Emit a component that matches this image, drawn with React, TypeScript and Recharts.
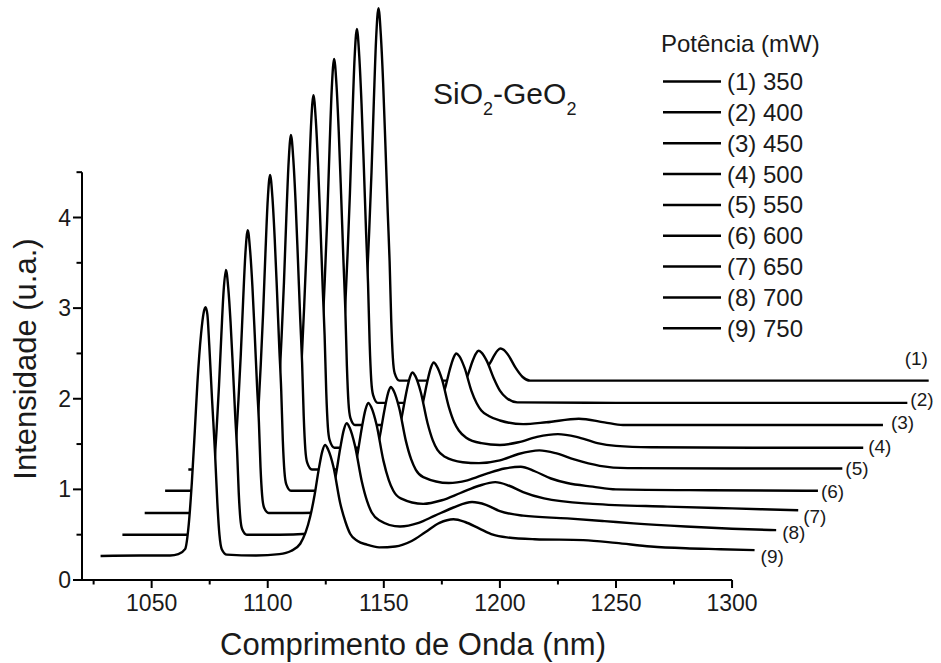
import React from 'react';
import { ComposedChart, Area, XAxis, YAxis, ReferenceLine, ReferenceDot } from 'recharts';

const font = '"Liberation Sans", Arial, Helvetica, sans-serif';

const powers = [350, 400, 450, 500, 550, 600, 650, 700, 750];
const xTicks = [1025, 1050, 1075, 1100, 1125, 1150, 1175, 1200, 1225, 1250, 1275, 1300];
const xMajor = [1050, 1100, 1150, 1200, 1250, 1300];
const yTicks = [0, 0.5, 1, 1.5, 2, 2.5, 3, 3.5, 4, 4.5];
const yMajor = [0, 1, 2, 3, 4];

// spectra, already offset as in the waterfall plot: [wavelength nm, intensity u.a.]
const curve1 = [[1104,2.2],[1120,2.2],[1136.7,2.2],[1139.2,2.28],[1140.7,2.45],[1141.7,2.775],[1142.7,3.27],[1143.7,3.845],[1144.7,4.5],[1145.7,5.28],[1146.7,5.98],[1147.7,6.31],[1148.7,6.02],[1149.7,5.49],[1150.7,4.79],[1151.7,4.05],[1152.5,3.515],[1153.2,2.86],[1153.9,2.45],[1154.7,2.28],[1156.7,2.2],[1170,2.2],[1183.3,2.2],[1187.3,2.215],[1189.8,2.24],[1192.3,2.28],[1193.9,2.325],[1195.8,2.395],[1197.5,2.475],[1199.1,2.535],[1200.3,2.555],[1201.6,2.54],[1203.9,2.47],[1206.8,2.34],[1209.8,2.24],[1213,2.2],[1260,2.2],[1320,2.2],[1384.7,2.2]];
const curve2 = [[1094.5,1.955],[1110,1.955],[1127.4,1.955],[1129.9,2.04],[1131.4,2.2],[1132.4,2.53],[1133.4,3.03],[1134.4,3.605],[1135.4,4.265],[1136.4,5.05],[1137.4,5.75],[1138.4,6.08],[1139.4,5.79],[1140.4,5.255],[1141.4,4.555],[1142.4,3.81],[1143.2,3.275],[1143.9,2.615],[1144.6,2.2],[1145.4,2.04],[1147.4,1.955],[1160,1.955],[1173.8,1.955],[1177.8,1.98],[1180.3,2.02],[1182.8,2.08],[1184.4,2.155],[1186.3,2.27],[1188,2.4],[1189.6,2.495],[1190.8,2.53],[1192.1,2.51],[1194.4,2.415],[1197.3,2.23],[1200,2.09],[1202.8,2.01],[1207.5,1.96],[1250,1.955],[1300,1.955],[1375.5,1.955]];
const curve3 = [[1085,1.71],[1100,1.71],[1117.6,1.71],[1120.1,1.79],[1121.6,1.95],[1122.6,2.28],[1123.6,2.76],[1124.6,3.33],[1125.6,3.97],[1126.6,4.74],[1127.6,5.43],[1128.6,5.75],[1129.6,5.47],[1130.6,4.94],[1131.6,4.26],[1132.6,3.53],[1133.4,3.0],[1134.1,2.36],[1134.8,1.95],[1135.6,1.79],[1137.6,1.71],[1150,1.71],[1164.2,1.71],[1168.2,1.74],[1170.7,1.8],[1173.2,1.885],[1174.8,1.99],[1176.7,2.145],[1178.4,2.32],[1180,2.45],[1181.2,2.5],[1182.5,2.47],[1184.8,2.34],[1187.7,2.09],[1190,1.95],[1192,1.87],[1195.2,1.81],[1200,1.76],[1210,1.72],[1220,1.74],[1234,1.78],[1245,1.74],[1253,1.71],[1300,1.71],[1365,1.71]];
const curve4 = [[1075.5,1.46],[1090,1.46],[1108.7,1.46],[1111.2,1.54],[1112.7,1.69],[1113.7,2.0],[1114.7,2.47],[1115.7,3.02],[1116.7,3.64],[1117.7,4.38],[1118.7,5.04],[1119.7,5.35],[1120.7,5.08],[1121.7,4.57],[1122.7,3.91],[1123.7,3.21],[1124.5,2.7],[1125.2,2.08],[1125.9,1.69],[1126.7,1.54],[1128.7,1.46],[1140,1.46],[1154.5,1.46],[1158.5,1.5],[1161,1.565],[1163.5,1.665],[1165.1,1.79],[1167,1.975],[1168.7,2.185],[1170.3,2.345],[1171.5,2.4],[1172.8,2.36],[1175.1,2.21],[1178,1.91],[1180.3,1.74],[1182.3,1.65],[1185.5,1.57],[1192,1.51],[1200,1.49],[1208,1.52],[1216,1.58],[1225,1.61],[1233,1.58],[1242,1.51],[1250,1.48],[1265,1.465],[1310,1.46],[1356.5,1.46]];
const curve5 = [[1065.8,1.22],[1080,1.22],[1099,1.22],[1101.5,1.295],[1103,1.44],[1104,1.74],[1105,2.18],[1106,2.7],[1107,3.29],[1108,3.99],[1109,4.61],[1110,4.91],[1111,4.65],[1112,4.17],[1113,3.54],[1114,2.88],[1114.8,2.4],[1115.5,1.81],[1116.2,1.44],[1117,1.295],[1119,1.22],[1132,1.22],[1145.3,1.225],[1149.3,1.265],[1151.8,1.34],[1154.3,1.455],[1155.9,1.595],[1157.8,1.81],[1159.5,2.045],[1161.1,2.225],[1162.3,2.29],[1163.6,2.25],[1165.9,2.075],[1168.8,1.735],[1171.1,1.54],[1173.1,1.435],[1176.3,1.36],[1184,1.3],[1191,1.29],[1200,1.32],[1208,1.39],[1217,1.43],[1224,1.4],[1232,1.33],[1243,1.26],[1255,1.235],[1300,1.23],[1347.5,1.23]];
const curve6 = [[1055.8,0.985],[1070,0.985],[1090,0.985],[1092.5,1.055],[1094,1.195],[1095,1.475],[1096,1.89],[1097,2.38],[1098,2.94],[1099,3.6],[1100,4.19],[1101,4.47],[1102,4.23],[1103,3.77],[1104,3.18],[1105,2.55],[1105.8,2.1],[1106.5,1.54],[1107.2,1.195],[1108,1.055],[1110,0.985],[1125,0.985],[1136,0.99],[1140,1.03],[1142.5,1.11],[1145,1.24],[1146.6,1.385],[1148.5,1.615],[1150.2,1.865],[1151.8,2.06],[1153,2.13],[1154.3,2.085],[1156.6,1.9],[1159.5,1.535],[1161.8,1.33],[1163.8,1.215],[1167,1.135],[1178,1.07],[1186,1.1],[1195,1.18],[1202,1.23],[1209,1.25],[1215,1.2],[1222,1.12],[1229,1.07],[1240,1.03],[1250,1.0],[1290,0.99],[1337,0.985]];
const curve7 = [[1047,0.74],[1060,0.74],[1080.4,0.74],[1082.9,0.8],[1084.4,0.93],[1085.4,1.18],[1086.4,1.55],[1087.4,1.99],[1088.4,2.49],[1089.4,3.08],[1090.4,3.61],[1091.4,3.86],[1092.4,3.64],[1093.4,3.24],[1094.4,2.71],[1095.4,2.14],[1096.2,1.74],[1096.9,1.24],[1097.6,0.93],[1098.4,0.8],[1100.4,0.74],[1115,0.74],[1126.3,0.745],[1130.3,0.79],[1132.8,0.87],[1135.3,1.01],[1136.9,1.165],[1138.8,1.41],[1140.5,1.675],[1142.1,1.88],[1143.3,1.955],[1144.6,1.905],[1146.9,1.71],[1149.8,1.32],[1152.1,1.105],[1154.1,0.985],[1157.3,0.9],[1167,0.84],[1175,0.88],[1183,0.96],[1191,1.04],[1198,1.08],[1204,1.04],[1210,0.97],[1219,0.9],[1240,0.84],[1272,0.81],[1300,0.79],[1328.5,0.77]];
const curve8 = [[1037.4,0.5],[1050,0.5],[1062,0.5],[1071,0.5],[1073.5,0.56],[1075,0.68],[1076,0.91],[1077,1.26],[1078,1.67],[1079,2.14],[1080,2.69],[1081,3.19],[1082,3.42],[1083,3.22],[1084,2.84],[1085,2.34],[1086,1.81],[1086.8,1.43],[1087.5,0.97],[1088.2,0.68],[1089,0.56],[1091,0.5],[1105,0.5],[1117,0.51],[1121,0.55],[1123.5,0.635],[1126,0.77],[1127.6,0.93],[1129.5,1.18],[1131.2,1.45],[1132.8,1.66],[1134,1.73],[1135.3,1.68],[1137.6,1.48],[1140.5,1.09],[1142.8,0.87],[1144.8,0.745],[1148,0.66],[1157,0.59],[1165,0.63],[1172,0.71],[1180,0.8],[1188,0.86],[1194,0.83],[1200,0.76],[1210,0.71],[1229,0.68],[1245,0.65],[1257.6,0.625],[1280,0.59],[1300,0.565],[1319,0.55]];
const curve9 = [[1028,0.265],[1045,0.27],[1058,0.27],[1061.5,0.285],[1064.4,0.34],[1066,0.62],[1067.3,1.07],[1068.6,1.65],[1069.7,2.17],[1071.3,2.72],[1072.4,2.95],[1073.2,3.01],[1074,2.93],[1074.8,2.6],[1076,2.0],[1077.3,1.4],[1078.3,0.85],[1079.2,0.5],[1080.2,0.34],[1082.4,0.28],[1095,0.27],[1105,0.285],[1110,0.32],[1114,0.4],[1118.3,0.7],[1120.2,0.94],[1121.9,1.21],[1123.5,1.42],[1124.7,1.49],[1126,1.44],[1128.3,1.25],[1131.2,0.85],[1133.5,0.64],[1135.5,0.51],[1138.7,0.43],[1142.7,0.39],[1148,0.36],[1155,0.37],[1162,0.43],[1168,0.53],[1174,0.63],[1180,0.67],[1185,0.64],[1191,0.57],[1197,0.5],[1203,0.47],[1215,0.45],[1236,0.44],[1250,0.41],[1265,0.37],[1280,0.35],[1295,0.34],[1309.7,0.33]];

const curves = [curve1, curve2, curve3, curve4, curve5, curve6, curve7, curve8, curve9];

// where the "(n)" tag sits relative to the end of its curve (px)
const endLabelShift = [[-24, -16], [3, 3], [8, 4], [5, 5], [3, 6], [3, 7], [5, 13], [6, 9], [6, 13]];

// back curve first, (9) is drawn last so it hides what lies behind it
const series = curves.map((pts, i) => ({
    id: `c${i + 1}`,
    tag: `(${i + 1})`,
    data: pts.map(([x, y]) => ({ x, y })),
}));

const XTick = (props: any) => {
    const { x, y, payload } = props;
    const major = xMajor.includes(payload.value);
    return (
        <g>
            <line x1={x} y1={y} x2={x} y2={y + (major ? 8 : 4.5)} stroke="#000" strokeWidth={2} />
            {major && (
                <text x={x} y={y + 31} textAnchor="middle" fontSize={23} fontFamily={font} fill="#1a1a1a">
                    {payload.value}
                </text>
            )}
        </g>
    );
};

const YTick = (props: any) => {
    const { x, y, payload } = props;
    const major = yMajor.includes(payload.value);
    return (
        <g>
            <line x1={x - (major ? 9 : 5.5)} y1={y} x2={x} y2={y} stroke="#000" strokeWidth={2} />
            {major && (
                <text x={x - 11} y={y + 8} textAnchor="end" fontSize={23} fontFamily={font} fill="#1a1a1a">
                    {payload.value}
                </text>
            )}
        </g>
    );
};

const App = () => {
    return (
        <div style={{ position: 'absolute', left: 0, top: 0, width: 941, height: 663, background: '#fff' }}>
            <ComposedChart width={941} height={663} margin={{ top: 0, right: 0, bottom: 43, left: 42 }}>
                <XAxis
                    type="number"
                    dataKey="x"
                    domain={[1020, 1390]}
                    ticks={xTicks}
                    interval={0}
                    height={40}
                    tickSize={0}
                    tickMargin={0}
                    axisLine={false}
                    tickLine={false}
                    tick={XTick}
                />
                <YAxis
                    type="number"
                    dataKey="y"
                    domain={[0, 6.4]}
                    ticks={yTicks}
                    interval={0}
                    width={40}
                    tickSize={0}
                    tickMargin={0}
                    axisLine={false}
                    tickLine={false}
                    tick={YTick}
                />
                {series.map((s) => (
                    <Area
                        key={s.id}
                        data={s.data}
                        dataKey="y"
                        type="monotone"
                        stroke="#000"
                        strokeWidth={2.4}
                        fill="#fff"
                        fillOpacity={1}
                        baseValue={0.08}
                        dot={false}
                        activeDot={false}
                        isAnimationActive={false}
                    />
                ))}
                <ReferenceLine segment={[{ x: 1020, y: 0 }, { x: 1300, y: 0 }]} stroke="#000" strokeWidth={2} />
                <ReferenceLine segment={[{ x: 1020, y: 0 }, { x: 1020, y: 4.5 }]} stroke="#000" strokeWidth={2} />
                {series.map((s, i) => {
                    const last = s.data[s.data.length - 1];
                    const [dx, dy] = endLabelShift[i];
                    return (
                        <ReferenceDot
                            key={'tag' + s.id}
                            x={last.x}
                            y={last.y}
                            r={0}
                            fill="none"
                            stroke="none"
                            ifOverflow="visible"
                            label={(p: any) => (
                                <text x={p.viewBox.x + dx} y={p.viewBox.y + dy} fontSize={19} fontFamily={font} fill="#1a1a1a">
                                    {s.tag}
                                </text>
                            )}
                        />
                    );
                })}
            </ComposedChart>
            <svg width={941} height={663} style={{ position: 'absolute', left: 0, top: 0, pointerEvents: 'none' }}>
                <g fontFamily={font} fill="#1a1a1a">
                    <text x={661} y={52} fontSize={24}>Potência (mW)</text>
                    {powers.map((p, i) => {
                        const rowY = 81.5 + 30.85 * i;
                        return (
                            <g key={p}>
                                <line x1={663} x2={721} y1={rowY} y2={rowY} stroke="#000" strokeWidth={2.5} />
                                <text x={727} y={rowY + 8.5} fontSize={24}>{`(${i + 1}) ${p}`}</text>
                            </g>
                        );
                    })}
                    <text x={433} y={104} fontSize={30}>
                        SiO<tspan fontSize={18} dy={11}>2</tspan>
                        <tspan fontSize={30} dy={-11}>-GeO</tspan>
                        <tspan fontSize={18} dy={11}>2</tspan>
                    </text>
                    <text x={413} y={655} fontSize={31} textAnchor="middle">Comprimento de Onda (nm)</text>
                    <text x={36} y={359} fontSize={31} textAnchor="middle" transform="rotate(-90, 36, 359)">
                        Intensidade (u.a.)
                    </text>
                </g>
            </svg>
        </div>
    );
};

export default App;
